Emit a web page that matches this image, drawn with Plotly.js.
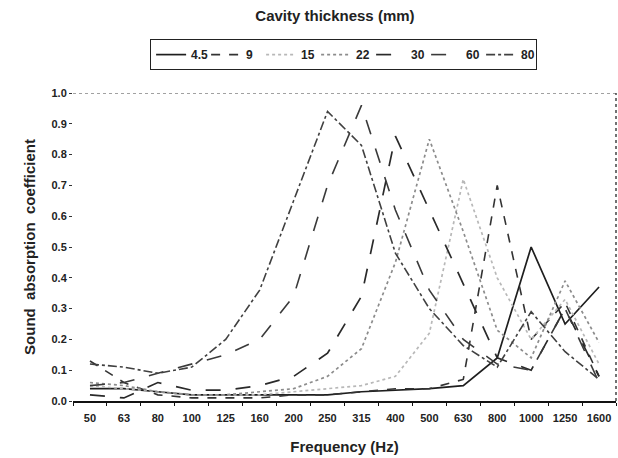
<!DOCTYPE html>
<html><head><meta charset="utf-8">
<script src="https://cdn.plot.ly/plotly-3.0.1.min.js"></script>
<style>html,body{margin:0;padding:0;background:#fff}#c{width:618px;height:458px}</style>
</head><body><div id="c"></div>
<script>
const frequencies = ['50','63','80','100','125','160','200','250','315','400','500','630','800','1000','1250','1600'];
const seriesNames = ['4.5','9','15','22','30','60','80'];
const s4_5 = [0.04,0.04,0.03,0.02,0.02,0.02,0.02,0.02,0.03,0.035,0.04,0.05,0.14,0.50,0.25,0.37];
const s9   = [0.13,0.06,0.02,0.01,0.01,0.01,0.02,0.02,0.03,0.04,0.04,0.07,0.70,0.20,0.32,0.08];
const s15  = [0.05,0.04,0.03,0.02,0.02,0.02,0.03,0.04,0.05,0.08,0.22,0.72,0.40,0.20,0.33,0.12];
const s22  = [0.06,0.05,0.03,0.02,0.02,0.03,0.04,0.08,0.17,0.45,0.85,0.55,0.23,0.14,0.39,0.19];
const s30  = [0.02,0.01,0.06,0.035,0.035,0.05,0.08,0.155,0.34,0.86,0.62,0.38,0.14,0.10,0.30,0.08];
const s60  = [0.05,0.06,0.09,0.12,0.15,0.20,0.34,0.70,0.96,0.62,0.36,0.20,0.12,0.10,0.30,0.06];
const s80  = [0.12,0.11,0.09,0.11,0.20,0.36,0.65,0.94,0.83,0.48,0.30,0.18,0.11,0.29,0.16,0.07];
const yTicks = [0,0.1,0.2,0.3,0.4,0.5,0.6,0.7,0.8,0.9,1.0];

const allSeries = [s4_5,s9,s15,s22,s30,s60,s80];
const styles = [
  {color:'#1e1e1e', dash:'solid', width:1.7},
  {color:'#333333', dash:'dash', width:1.6},
  {color:'#b8b8b8', dash:'dot', width:1.7},
  {color:'#8c8c8c', dash:'dot', width:1.7},
  {color:'#2a2a2a', dash:'longdash', width:1.7},
  {color:'#3a3a3a', dash:'longdash', width:1.6},
  {color:'#404040', dash:'dashdot', width:1.6}
];
const traces = allSeries.map((vals,i)=>({
  type:'scatter', mode:'lines', x:frequencies, y:vals, name:'<b>'+seriesNames[i]+'</b>',
  line:styles[i]
}));
const F = 'Liberation Sans, Arial, sans-serif';
const layout = {
  width:618, height:458,
  margin:{l:73, r:2, t:93, b:57},
  paper_bgcolor:'#fff', plot_bgcolor:'#fff',
  font:{family:F, color:'#222', size:10},
  title:{text:'<b>Cavity thickness (mm)</b>', x:0.542, xanchor:'center', y:0.965, yanchor:'middle', font:{size:15, family:F, color:'#222'}},
  showlegend:true,
  legend:{orientation:'h', x:0.142, xanchor:'left', y:1.175, yanchor:'top',
    bordercolor:'#222', borderwidth:1, bgcolor:'#fff', itemwidth:30,
    entrywidth:10, entrywidthmode:'pixels',
    font:{size:12, family:F, color:'#222'}, tracegroupgap:0, traceorder:'normal'},
  xaxis:{type:'category', range:[-0.5,15.5], showgrid:false, zeroline:false,
    showline:true, linecolor:'#111', linewidth:2, ticks:'outside', ticklen:3, tickcolor:'#111',
    tickson:'boundaries', tickfont:{size:11, family:F, color:'#222'}, ticklabelstandoff:6,
    tickvals:frequencies, ticktext:frequencies.map(f=>'<b>'+f+'</b>'),
    title:{text:'<b>Frequency (Hz)</b>', font:{size:15, family:F, color:'#222'}, standoff:18}},
  yaxis:{range:[0,1.0], tickvals:yTicks, ticktext:yTicks.map(v=>'<b>'+v.toFixed(1)+'</b>'),
    showgrid:false, zeroline:false, showline:false, ticks:'outside', ticklen:3, tickcolor:'#333',
    tickfont:{size:11, family:F, color:'#222'},
    title:{text:'<b>Sound  absorption  coefficient</b>', font:{size:15, family:F, color:'#222'}, standoff:12}},
  shapes:[
    {type:'line', xref:'paper', yref:'y', x0:0, x1:1, y0:1, y1:1, line:{color:'#444', width:1, dash:'dot'}},
    {type:'line', xref:'paper', yref:'paper', x0:1, x1:1, y0:0, y1:1, line:{color:'#444', width:1.5, dash:'dot'}}
  ]
};
Plotly.newPlot('c', traces, layout, {displayModeBar:false, staticPlot:true});
</script></body></html>
